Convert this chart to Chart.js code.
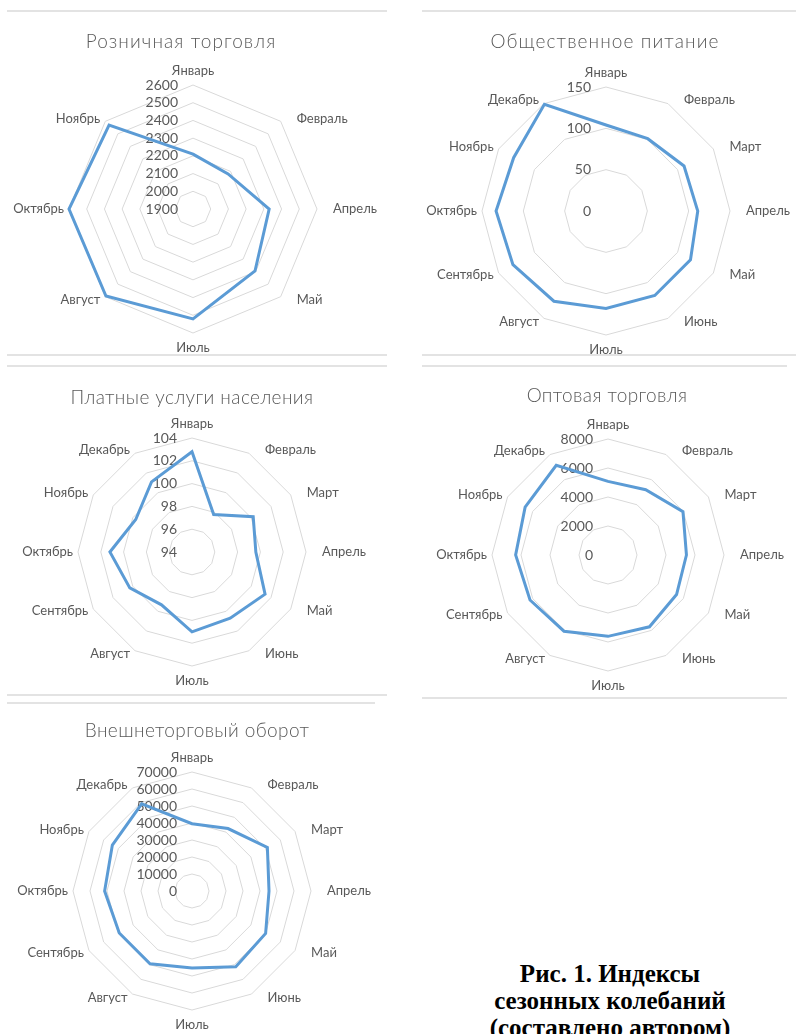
<!DOCTYPE html>
<html>
<head>
<meta charset="utf-8">
<script src="https://cdn.jsdelivr.net/npm/chart.js@4.4.1/dist/chart.umd.min.js"></script>
<style>
  body { margin: 0; background: #fff; width: 796px; height: 1034px; position: relative; overflow: hidden; }
  .box { position: absolute; overflow: hidden; border-top: 2px solid #e3e3e3; border-bottom: 2px solid #e3e3e3; box-sizing: border-box; }
  .box canvas { position: absolute; }
  .ttl { position: absolute; font: 300 19px Lato, "Open Sans", sans-serif; letter-spacing: 1.1px; color: #595959; white-space: nowrap; transform: translate(-50%, -50%); }
  .ttl.small { letter-spacing: 0.4px; }
  .caption { position: absolute; left: 460px; top: 960px; width: 300px; text-align: center;
             font: bold 25px/27px "Liberation Serif", "Times New Roman", serif; color: #000; }
</style>
</head>
<body>

<div class="box" id="box1" style="left:7px; top:10px; width:380px; height:346px;"><canvas id="c1"></canvas></div>
<div class="box" id="box2" style="left:422px; top:10px; width:374px; height:346px;"><canvas id="c2"></canvas></div>
<div class="box" id="box3" style="left:7px; top:365px; width:380px; height:331px;"><canvas id="c3"></canvas></div>
<div class="box" id="box4" style="left:422px; top:365px; width:365px; height:334px;"><canvas id="c4"></canvas></div>
<div class="box" id="box5" style="left:7px; top:702px; width:368px; height:340px;"><canvas id="c5"></canvas></div>

<div class="ttl" style="left:181px; top:40px;">Розничная торговля</div>
<div class="ttl" style="left:605px; top:40px;">Общественное питание</div>
<div class="ttl small" style="left:192px; top:396px;">Платные услуги населения</div>
<div class="ttl small" style="left:607px; top:394px;">Оптовая торговля</div>
<div class="ttl small" style="left:197px; top:729px;">Внешнеторговый оборот</div>

<div class="caption">Рис. 1. Индексы<br>сезонных колебаний<br>(составлено автором)</div>

<script>
const months8  = ["Январь", "Февраль", "Апрель", "Май", "Июль", "Август", "Октябрь", "Ноябрь"];
const months12 = ["Январь", "Февраль", "Март", "Апрель", "Май", "Июнь", "Июль", "Август", "Сентябрь", "Октябрь", "Ноябрь", "Декабрь"];

// Розничная торговля (only 8 months on this one)
const retailValues = [2210, 2180, 2330, 2395, 2520, 2595, 2600, 2570];
const retailTicks  = [1900, 2000, 2100, 2200, 2300, 2400, 2500, 2600];

// Общественное питание
const cateringValues = [104, 101, 109, 111, 118, 118, 118, 126, 130, 133, 129, 149];
const cateringTicks  = [0, 50, 100, 150];

// Платные услуги населения
const servicesValues = [102.8, 97.8, 100.2, 99.6, 101.4, 100.7, 101.0, 99.35, 100.3, 101.2, 99.7, 101.1];
const servicesTicks  = [94, 96, 98, 100, 102, 104];

// Оптовая торговля
const wholesaleValues = [5080, 5200, 5970, 5410, 5460, 5720, 5610, 6070, 6210, 6370, 6600, 7140];
const wholesaleTicks  = [0, 2000, 4000, 6000, 8000];

// Внешнеторговый оборот
const tradeValues = [39600, 42400, 51200, 45300, 50000, 51500, 45300, 49400, 49400, 51400, 54100, 59200];
const tradeTicks  = [0, 10000, 20000, 30000, 40000, 50000, 60000, 70000];

const PAD = 95;

// Excel-like labels: values left of the vertical axis, month names around the web
const excelLabels = {
  id: "excelLabels",
  beforeDatasetsDraw(chart) {
    const r = chart.scales.r, ctx = chart.ctx;
    ctx.save();
    ctx.fillStyle = "#595959";
    ctx.textBaseline = "middle";

    ctx.font = "14px Lato, 'Open Sans', sans-serif";
    ctx.textAlign = "right";
    r.ticks.forEach(t => {
      ctx.fillText(String(t.value), r.xCenter - 15, r.yCenter - r.getDistanceFromCenterForValue(t.value));
    });

    ctx.font = "13px Lato, 'Open Sans', sans-serif";
    chart.data.labels.forEach((txt, i) => {
      const p = r.getPointPosition(i, r.drawingArea);
      const a = r.getIndexAngle(i);
      const s = Math.sin(a), c = Math.cos(a);
      let x = p.x, y = p.y - 4 * c;
      if (Math.abs(s) < 0.01) {
        ctx.textAlign = "center";
        y = c > 0 ? p.y - 14 : p.y + 15;
      } else if (s > 0) {
        ctx.textAlign = "left";
        x += 16;
      } else {
        ctx.textAlign = "right";
        x -= 5;
      }
      ctx.fillText(txt, x, y);
    });
    ctx.restore();
  }
};

function radar(boxId, canvasId, cx, cy, R, labels, values, ticks) {
  const box = document.getElementById(boxId);
  const canvas = document.getElementById(canvasId);
  const bl = box.offsetLeft + box.clientLeft, bt = box.offsetTop + box.clientTop;
  const S = 2 * R + 2 * PAD;
  canvas.width = S; canvas.height = S;
  canvas.style.width = S + "px"; canvas.style.height = S + "px";

  const chart = new Chart(canvas, {
    type: "radar",
    data: {
      labels: labels,
      datasets: [{
        data: values,
        borderColor: "#5b9bd5",
        borderWidth: 3,
        pointRadius: 0,
        fill: false,
        tension: 0
      }]
    },
    options: {
      responsive: false,
      animation: false,
      layout: { padding: PAD },
      plugins: { legend: { display: false }, tooltip: { enabled: false } },
      scales: {
        r: {
          min: ticks[0],
          max: ticks[ticks.length - 1],
          ticks: { stepSize: ticks[1] - ticks[0], display: false },
          grid: { color: "#d9d9d9", lineWidth: 1 },
          angleLines: { display: false },
          pointLabels: { display: false }
        }
      }
    },
    plugins: [excelLabels]
  });

  // put the web centre where the picture has it
  const r = chart.scales.r;
  canvas.style.left = (cx - bl - r.xCenter) + "px";
  canvas.style.top = (cy - bt - r.yCenter) + "px";
  return chart;
}

radar("box1", "c1", 193, 209, 124, months8, retailValues, retailTicks);
radar("box2", "c2", 606, 211, 124, months12, cateringValues, cateringTicks);
radar("box3", "c3", 192, 552, 114, months12, servicesValues, servicesTicks);
radar("box4", "c4", 608, 555, 116, months12, wholesaleValues, wholesaleTicks);
radar("box5", "c5", 192, 891, 119, months12, tradeValues, tradeTicks);
</script>
</body>
</html>
